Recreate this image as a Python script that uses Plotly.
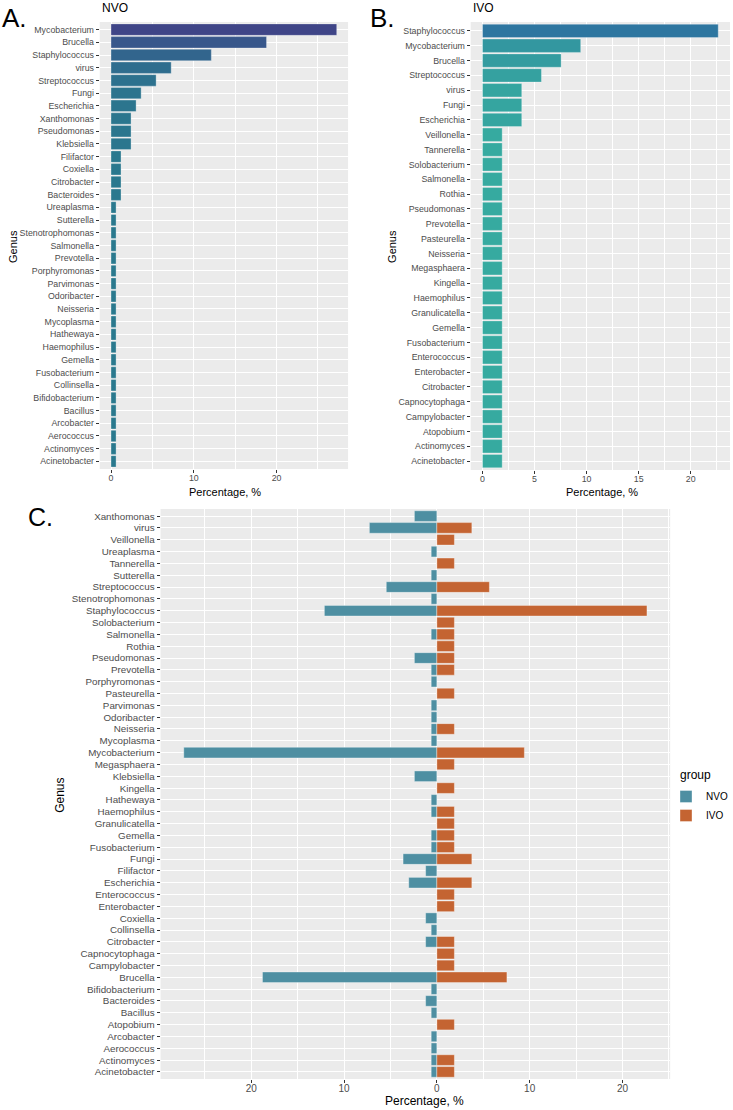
import plotly.graph_objects as go

# ---------------- data ----------------
nvo_genus = ["Mycobacterium", "Brucella", "Staphylococcus", "virus", "Streptococcus", "Fungi",
             "Escherichia", "Xanthomonas", "Pseudomonas", "Klebsiella", "Filifactor", "Coxiella",
             "Citrobacter", "Bacteroides", "Ureaplasma", "Sutterella", "Stenotrophomonas",
             "Salmonella", "Prevotella", "Porphyromonas", "Parvimonas", "Odoribacter", "Neisseria",
             "Mycoplasma", "Hathewaya", "Haemophilus", "Gemella", "Fusobacterium", "Collinsella",
             "Bifidobacterium", "Bacillus", "Arcobacter", "Aerococcus", "Actinomyces", "Acinetobacter"]
nvo_pct = [27.27, 18.79, 12.12, 7.27, 5.45, 3.64, 3.03, 2.42, 2.42, 2.42, 1.21, 1.21, 1.21, 1.21,
           0.61, 0.61, 0.61, 0.61, 0.61, 0.61, 0.61, 0.61, 0.61, 0.61, 0.61, 0.61, 0.61, 0.61,
           0.61, 0.61, 0.61, 0.61, 0.61, 0.61, 0.61]

ivo_genus = ["Staphylococcus", "Mycobacterium", "Brucella", "Streptococcus", "virus", "Fungi",
             "Escherichia", "Veillonella", "Tannerella", "Solobacterium", "Salmonella", "Rothia",
             "Pseudomonas", "Prevotella", "Pasteurella", "Neisseria", "Megasphaera", "Kingella",
             "Haemophilus", "Granulicatella", "Gemella", "Fusobacterium", "Enterococcus",
             "Enterobacter", "Citrobacter", "Capnocytophaga", "Campylobacter", "Atopobium",
             "Actinomyces", "Acinetobacter"]
ivo_pct = [22.64, 9.43, 7.55, 5.66, 3.77, 3.77, 3.77, 1.89, 1.89, 1.89, 1.89, 1.89, 1.89, 1.89,
           1.89, 1.89, 1.89, 1.89, 1.89, 1.89, 1.89, 1.89, 1.89, 1.89, 1.89, 1.89, 1.89, 1.89,
           1.89, 1.89]

# panel C genus order (top to bottom)
c_genus = ["Xanthomonas", "virus", "Veillonella", "Ureaplasma", "Tannerella", "Sutterella",
           "Streptococcus", "Stenotrophomonas", "Staphylococcus", "Solobacterium", "Salmonella",
           "Rothia", "Pseudomonas", "Prevotella", "Porphyromonas", "Pasteurella", "Parvimonas",
           "Odoribacter", "Neisseria", "Mycoplasma", "Mycobacterium", "Megasphaera", "Klebsiella",
           "Kingella", "Hathewaya", "Haemophilus", "Granulicatella", "Gemella", "Fusobacterium",
           "Fungi", "Filifactor", "Escherichia", "Enterococcus", "Enterobacter", "Coxiella",
           "Collinsella", "Citrobacter", "Capnocytophaga", "Campylobacter", "Brucella",
           "Bifidobacterium", "Bacteroides", "Bacillus", "Atopobium", "Arcobacter", "Aerococcus",
           "Actinomyces", "Acinetobacter"]

c_tickvals = [-20, -10, 0, 10, 20]
c_ticktext = ["20", "10", "0", "10", "20"]

# ---------------- layout helpers ----------------
W, H = 733, 1110
FONT = "Liberation Sans, Arial, sans-serif"
TICKC = "#4D4D4D"
BG = "#EBEBEB"


def px_x(p):
    return p / W


def px_y(p):
    return 1 - p / H


nvo_map = dict(zip(nvo_genus, nvo_pct))
ivo_map = dict(zip(ivo_genus, ivo_pct))
c_nvo = [-nvo_map[g] if g in nvo_map else None for g in c_genus]
c_ivo = [ivo_map.get(g) for g in c_genus]

fig = go.Figure()

# Panel A
fig.add_trace(go.Bar(
    y=nvo_genus, x=nvo_pct, orientation="h", xaxis="x", yaxis="y",
    marker=dict(color=nvo_pct, colorscale="Viridis", reversescale=True,
                cmin=-80.4, cmax=55.9, showscale=False,
                line=dict(color="rgba(255,255,255,0.5)", width=0.6)),
    showlegend=False, hoverinfo="x+y"))

# Panel B
fig.add_trace(go.Bar(
    y=ivo_genus, x=ivo_pct, orientation="h", xaxis="x2", yaxis="y2",
    marker=dict(color=ivo_pct, colorscale=[[0, "#36AAA0"], [1, "#2E76A0"]],
                cmin=min(ivo_pct), cmax=max(ivo_pct), showscale=False,
                line=dict(color="rgba(255,255,255,0.5)", width=0.6)),
    showlegend=False, hoverinfo="x+y"))

# Panel C
fig.add_trace(go.Bar(
    y=c_genus, x=c_nvo, orientation="h", xaxis="x3", yaxis="y3", name="NVO",
    marker=dict(color="#4E8FA2", line=dict(color="rgba(255,255,255,0.6)", width=0.6))))
fig.add_trace(go.Bar(
    y=c_genus, x=c_ivo, orientation="h", xaxis="x3", yaxis="y3", name="IVO",
    marker=dict(color="#C46432", line=dict(color="rgba(255,255,255,0.6)", width=0.6))))


def xaxis(domain, rng, dtick, minor_dtick, size, anchor, tickvals=None, ticktext=None):
    d = dict(domain=domain, range=rng, anchor=anchor, showgrid=True, gridcolor="white",
             gridwidth=1.1, zeroline=False, ticks="outside", ticklen=3, tickwidth=1,
             tickcolor="#333333", tickfont=dict(size=size, color=TICKC, family=FONT),
             showline=False, automargin=False, fixedrange=True, ticklabelstandoff=-3,
             minor=dict(dtick=minor_dtick, tick0=0, showgrid=True, gridcolor="white",
                        gridwidth=0.55, ticks=""))
    if tickvals is not None:
        d.update(tickmode="array", tickvals=tickvals, ticktext=ticktext)
    else:
        d.update(tickmode="linear", tick0=0, dtick=dtick)
    return d


def yaxis(domain, cats_top_to_bottom, size, anchor):
    n = len(cats_top_to_bottom)
    return dict(domain=domain, anchor=anchor, type="category",
                categoryorder="array", categoryarray=list(reversed(cats_top_to_bottom)),
                tickmode="array", tickvals=list(cats_top_to_bottom),
                ticktext=list(cats_top_to_bottom),
                range=[-0.6, n - 1 + 0.6], showgrid=True, gridcolor="white", gridwidth=1.1,
                zeroline=False, ticks="outside", ticklen=3, tickwidth=1, tickcolor="#333333",
                tickfont=dict(size=size, color=TICKC, family=FONT), automargin=False,
                fixedrange=True)


fig.update_layout(
    width=W, height=H, autosize=False,
    margin=dict(l=0, r=0, t=0, b=0),
    paper_bgcolor="white", plot_bgcolor=BG,
    barmode="overlay", bargap=0.1,
    font=dict(family=FONT, color="black"),
    xaxis=xaxis([px_x(100), px_x(349)], [-1.364, 28.64], 10, 5, 8.8, "y"),
    yaxis=yaxis([px_y(469), px_y(22)], nvo_genus, 8.8, "x"),
    xaxis2=xaxis([px_x(472), px_x(732)], [-1.132, 23.77], 5, 2.5, 8.8, "y2"),
    yaxis2=yaxis([px_y(470), px_y(22)], ivo_genus, 8.8, "x2"),
    xaxis3=xaxis([px_x(161), px_x(672)], [-29.77, 25.14], None, 5, 10, "y3",
                 tickvals=c_tickvals, ticktext=c_ticktext),
    yaxis3=yaxis([px_y(1079), px_y(509)], c_genus, 9.8, "x3"),
    legend=dict(x=px_x(668), y=px_y(782), xanchor="left", yanchor="top",
                font=dict(size=10, color="black", family=FONT), bgcolor="rgba(0,0,0,0)",
                traceorder="normal", itemwidth=30, tracegroupgap=0),
)

ann = []


def text(x, y, s, size, xanchor="center", yanchor="middle", angle=0):
    ann.append(dict(x=px_x(x), y=px_y(y), xref="paper", yref="paper", text=s, showarrow=False,
                    font=dict(size=size, color="black", family=FONT), xanchor=xanchor,
                    yanchor=yanchor, textangle=angle))


text(0, 18, "A.", 26, xanchor="left")
text(369, 18, "B.", 26, xanchor="left")
text(26, 517, "C.", 25, xanchor="left")
text(100, 8, "NVO", 12, xanchor="left")
text(472, 8, "IVO", 12, xanchor="left")
text(226, 492, "Percentage, %", 11)
text(604, 492, "Percentage, %", 11)
text(426, 1101, "Percentage, %", 12)
text(13, 246, "Genus", 11, angle=-90)
text(393, 246, "Genus", 11, angle=-90)
text(60, 795, "Genus", 12, angle=-90)
text(680, 775, "group", 12, xanchor="left")

fig.update_layout(annotations=ann)

fig.write_html(
    "out.html",
    config={"displayModeBar": False},
    post_script="document.body.style.margin='0';document.body.style.overflow='hidden';"
                "document.documentElement.style.overflow='hidden';",
)
